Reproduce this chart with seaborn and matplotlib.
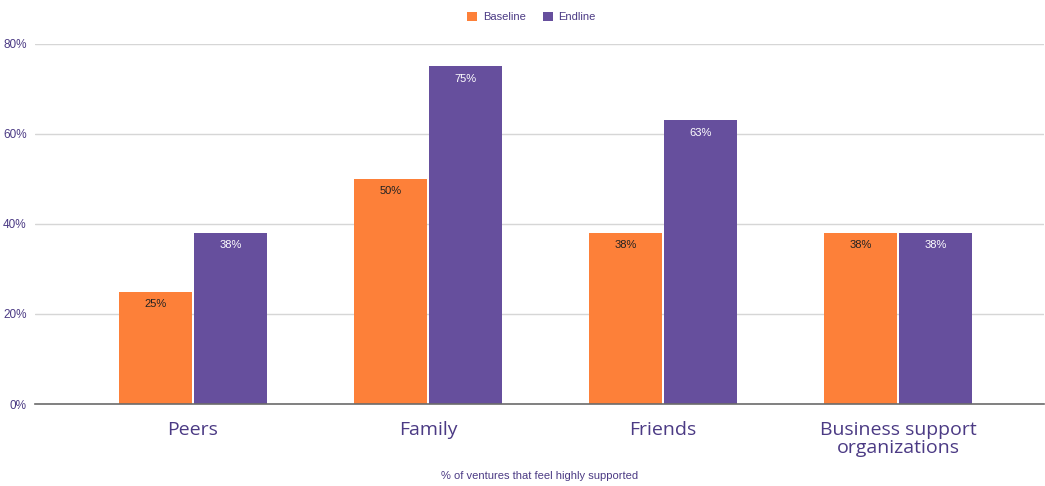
import matplotlib
matplotlib.use("Agg")
import matplotlib.pyplot as plt
import seaborn as sns
import pandas as pd

categories = ["Peers", "Family", "Friends", "Business support\norganizations"]
baseline = [25, 50, 38, 38]
endline = [38, 75, 63, 38]
series_names = ["Baseline", "Endline"]
y_ticks = [0, 20, 40, 60, 80]

orange = "#fd8039"
purple = "#664f9d"
text_purple = "#4b3a84"

df = pd.DataFrame({
    "category": categories * 2,
    "series": [series_names[0]] * len(categories) + [series_names[1]] * len(categories),
    "value": baseline + endline,
})

sns.set_theme(style="white")
plt.rcParams["font.family"] = ["Liberation Sans", "DejaVu Sans"]

fig = plt.figure(figsize=(10.45, 4.86), dpi=100)
ax = fig.add_axes([35 / 1045, 82 / 486, 1009 / 1045, 360 / 486])

sns.barplot(data=df, x="category", y="value", hue="series",
            palette=[orange, purple], width=0.64, gap=0.03,
            linewidth=0, saturation=1, ax=ax, legend=True)

ax.set_xlim(-0.672, 3.62)
ax.set_ylim(0, 80)
ax.set_yticks(y_ticks)
ax.set_yticklabels([f"{t}%" for t in y_ticks], fontsize=8.5, color=text_purple)
ax.tick_params(axis="y", length=0, pad=6)
ax.tick_params(axis="x", length=0, pad=12)
ax.yaxis.grid(True, color="#d6d6d6", linewidth=1)
ax.set_axisbelow(True)
for side in ["top", "right", "left"]:
    ax.spines[side].set_visible(False)
ax.spines["bottom"].set_color("#6b6b6b")
ax.spines["bottom"].set_linewidth(1.2)

for lbl in ax.get_xticklabels():
    lbl.set_fontfamily(["Open Sans", "DejaVu Sans"])
    lbl.set_fontsize(14)
    lbl.set_color(text_purple)
    lbl.set_linespacing(1.0)

ax.set_ylabel("")
ax.set_xlabel("% of ventures that feel highly supported", fontsize=8,
              color=text_purple, labelpad=10)

# value labels just inside the top of each bar
for container, txt_color in zip(ax.containers, ["#222222", "white"]):
    for bar in container:
        v = bar.get_height()
        ax.annotate(f"{v:.0f}%", (bar.get_x() + bar.get_width() / 2, v),
                    xytext=(0, -9), textcoords="offset points",
                    ha="center", va="center", fontsize=8, color=txt_color)

leg = ax.legend(loc="upper center", bbox_to_anchor=(0.5 - 0.008, 1.0 + 42 / 360),
                ncol=2, frameon=False, fontsize=8, handlelength=0.9,
                handleheight=0.9, columnspacing=1.5, handletextpad=0.5)
for t in leg.get_texts():
    t.set_color(text_purple)

fig.savefig("out.png", dpi=100)
